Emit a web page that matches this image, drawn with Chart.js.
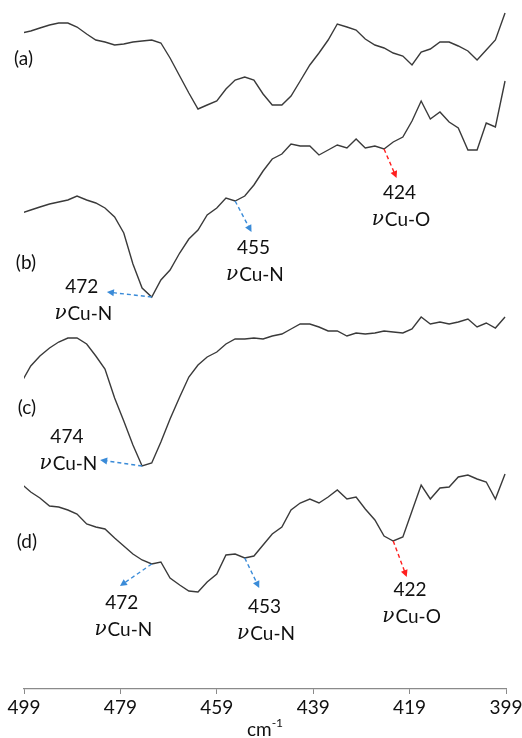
<!DOCTYPE html>
<html>
<head>
<meta charset="utf-8">
<script src="https://cdn.jsdelivr.net/npm/chart.js@4"></script>
<style>
  html, body { margin: 0; padding: 0; background: #fff; }
  #wrap { width: 522px; height: 738px; position: relative; }
</style>
</head>
<body>
<div id="wrap"><canvas id="irChart"></canvas></div>
<script>
// wavenumber of each recorded point (cm-1)
const wavenumbers = [499.5, 497.6, 495.7, 493.7, 491.8, 489.9, 488.0, 486.0, 484.1, 482.2,
  480.2, 478.3, 476.4, 474.5, 472.5, 470.6, 468.7, 466.7, 464.8, 462.9,
  461.0, 459.0, 457.1, 455.2, 453.2, 451.3, 449.4, 447.5, 445.5, 443.6,
  441.7, 439.7, 437.8, 435.9, 434.0, 432.0, 430.1, 428.2, 426.2, 424.3,
  422.4, 420.4, 418.5, 416.6, 414.7, 412.7, 410.8, 408.9, 406.9, 405.0,
  403.1, 401.2, 399.2];

// stacked spectra, arbitrary transmittance units (offset per trace)
const spectrumA = [65.6, 65.8, 66.1, 66.4, 66.6, 66.6, 66.2, 65.5, 64.9, 64.7,
  64.4, 64.5, 64.7, 64.8, 64.9, 64.6, 63.1, 61.3, 59.6, 58.0,
  58.4, 58.8, 60.0, 60.9, 61.2, 60.9, 59.5, 58.4, 58.4, 59.3,
  60.8, 62.4, 63.6, 64.9, 66.5, 66.2, 65.9, 65.0, 64.4, 64.1,
  63.6, 63.3, 62.4, 63.7, 64.0, 64.7, 64.7, 64.3, 63.8, 62.9,
  63.9, 64.9, 67.6];
const spectrumB = [47.6, 47.9, 48.2, 48.5, 48.7, 48.9, 49.3, 48.9, 48.6, 48.1,
  47.2, 45.6, 42.5, 40.1, 39.2, 40.9, 41.9, 43.6, 45.0, 45.9,
  47.4, 48.1, 49.1, 48.8, 49.3, 50.4, 51.8, 53.0, 53.5, 54.5,
  54.3, 54.3, 53.4, 53.9, 54.4, 54.1, 55.0, 54.1, 54.3, 54.0,
  54.7, 55.2, 56.8, 58.8, 57.0, 57.7, 56.7, 56.1, 53.9, 53.9,
  56.6, 56.2, 60.8];
const spectrumC = [30.7, 32.3, 33.3, 34.1, 34.7, 35.1, 35.1, 34.5, 33.3, 32.0,
  29.1, 26.8, 24.4, 22.3, 22.6, 24.7, 27.0, 29.2, 31.2, 32.4,
  33.2, 33.7, 34.5, 35.0, 35.0, 35.1, 35.0, 35.3, 35.5, 36.0,
  36.5, 36.5, 36.2, 35.8, 35.8, 35.3, 35.6, 35.5, 35.6, 35.8,
  35.7, 35.6, 36.0, 37.2, 36.5, 36.7, 36.5, 36.7, 37.0, 36.2,
  36.6, 36.1, 37.2];
const spectrumD = [20.5, 19.7, 19.1, 18.3, 18.2, 17.9, 17.5, 16.5, 16.2, 16.0,
  15.1, 14.3, 13.5, 12.9, 12.5, 12.7, 11.1, 10.4, 9.8, 9.7,
  10.7, 11.5, 13.4, 13.5, 13.1, 13.3, 14.4, 15.5, 16.2, 17.9,
  18.6, 19.0, 18.6, 19.2, 19.9, 19.0, 19.2, 18.0, 16.9, 15.3,
  14.8, 15.2, 17.8, 20.4, 19.0, 20.1, 20.2, 21.2, 21.4, 21.0,
  20.7, 19.0, 21.5];

const xTicks = [499, 479, 459, 439, 419, 399];
const traceNames = ['(a)', '(b)', '(c)', '(d)'];
// where each trace name sits, in axis units [wavenumber, value]
const traceNameAt = [[499.1, 63.0], [498.6, 42.6], [498.4, 28.1], [498.4, 14.7]];

// band assignments: trace, point index, arrow tip and label anchor (axis units)
const bandTrace = [1, 1, 1, 2, 3, 3, 3];
const bandIndex = [14, 23, 39, 13, 14, 24, 40];
const bandText = ['472', '455', '424', '474', '472', '453', '422'];
const bandMode = ['Cu-N', 'Cu-N', 'Cu-O', 'Cu-N', 'Cu-N', 'Cu-N', 'Cu-O'];
const bandTip = [[481.8, 39.7], [451.8, 45.7], [421.7, 51.1], [483.2, 22.9], [479.1, 10.3], [450.2, 10.1], [419.6, 11.2]];
const bandLabel = [[487.0, 40.2], [451.4, 44.1], [421.1, 49.6], [490.1, 25.2], [478.7, 8.6], [449.1, 8.2], [418.9, 9.9]];

const spectra = [spectrumA, spectrumB, spectrumC, spectrumD];
const FONT = 'Lato, "Open Sans", sans-serif';

const annotate = {
  id: 'annotate',
  afterDatasetsDraw(chart) {
    const { ctx, scales: { x, y }, chartArea } = chart;
    ctx.save();
    ctx.textAlign = 'center';
    ctx.textBaseline = 'middle';
    ctx.fillStyle = '#111';
    ctx.font = '19px ' + FONT;
    traceNames.forEach((name, i) => {
      ctx.fillText(name, x.getPixelForValue(traceNameAt[i][0]), y.getPixelForValue(traceNameAt[i][1]));
    });

    bandText.forEach((txt, i) => {
      const s = spectra[bandTrace[i]];
      const k = bandIndex[i];
      const x0 = x.getPixelForValue(wavenumbers[k]);
      const y0 = y.getPixelForValue(s[k]);
      const x1 = x.getPixelForValue(bandTip[i][0]);
      const y1 = y.getPixelForValue(bandTip[i][1]);
      const color = bandMode[i] === 'Cu-O' ? '#ff1f1f' : '#3a8bd8';
      const ang = Math.atan2(y1 - y0, x1 - x0);
      const head = 7;
      // dashed shaft
      ctx.strokeStyle = color;
      ctx.lineWidth = 1.4;
      ctx.setLineDash([4, 3]);
      ctx.beginPath();
      ctx.moveTo(x0, y0);
      ctx.lineTo(x1 - Math.cos(ang) * head * 0.6, y1 - Math.sin(ang) * head * 0.6);
      ctx.stroke();
      ctx.setLineDash([]);
      // arrow head
      ctx.fillStyle = color;
      ctx.beginPath();
      ctx.moveTo(x1, y1);
      ctx.lineTo(x1 - head * Math.cos(ang) + 3.5 * Math.sin(ang), y1 - head * Math.sin(ang) - 3.5 * Math.cos(ang));
      ctx.lineTo(x1 - head * Math.cos(ang) - 3.5 * Math.sin(ang), y1 - head * Math.sin(ang) + 3.5 * Math.cos(ang));
      ctx.closePath();
      ctx.fill();

      // label: wavenumber, then vibration mode
      const lx = x.getPixelForValue(bandLabel[i][0]);
      const ly = y.getPixelForValue(bandLabel[i][1]);
      ctx.fillStyle = '#111';
      ctx.textAlign = 'center';
      ctx.font = '19px ' + FONT;
      ctx.fillText(txt, lx, ly);
      const nuFont = 'italic 20px "DejaVu Serif", serif';
      ctx.font = nuFont;
      const wNu = ctx.measureText('\u03bd').width;
      ctx.font = '19px ' + FONT;
      const wMode = ctx.measureText(bandMode[i]).width;
      const startX = lx + 1.5 - (wNu + 1 + wMode) / 2;
      ctx.textAlign = 'left';
      ctx.font = nuFont;
      ctx.fillText('\u03bd', startX, ly + 27);
      ctx.font = '19px ' + FONT;
      ctx.fillText(bandMode[i], startX + wNu + 1, ly + 27);
      ctx.textAlign = 'center';
    });

    // axis title cm-1 with superscript
    const cx = (chartArea.left + chartArea.right) / 2;
    const ty = chartArea.bottom + 41;
    ctx.font = '19px ' + FONT;
    const wCm = ctx.measureText('cm').width;
    ctx.font = '12px ' + FONT;
    const wSup = ctx.measureText('-1').width;
    const sx = cx - (wCm + wSup) / 2;
    ctx.textAlign = 'left';
    ctx.fillStyle = '#111';
    ctx.font = '19px ' + FONT;
    ctx.fillText('cm', sx, ty);
    ctx.font = '12px ' + FONT;
    ctx.fillText('-1', sx + wCm, ty - 7);
    ctx.restore();
  }
};

new Chart(document.getElementById('irChart'), {
  type: 'line',
  data: {
    datasets: spectra.map((s, i) => ({
      label: traceNames[i],
      data: wavenumbers.map((w, j) => ({ x: w, y: s[j] })),
      borderColor: '#3a3a3a',
      borderWidth: 1.4,
      pointRadius: 0,
      tension: 0,
      fill: false
    }))
  },
  options: {
    responsive: true,
    maintainAspectRatio: false,
    animation: false,
    layout: { padding: { left: 24, right: 16, top: 0, bottom: 0 } },
    plugins: { legend: { display: false }, tooltip: { enabled: false } },
    scales: {
      x: {
        type: 'linear',
        reverse: true,
        min: 399,
        max: 499,
        afterBuildTicks: (axis) => { axis.ticks = xTicks.map(v => ({ value: v })); },
        afterFit: (axis) => {
          axis.height = 49;
          // edge labels may overhang the plot, as in the original figure
          axis.paddingLeft = 0;
          axis.paddingRight = 0;
        },
        grid: { drawOnChartArea: false, drawTicks: true, tickLength: 5, color: '#8a8a8a' },
        border: { color: '#8a8a8a', width: 1.2 },
        ticks: { color: '#111', font: { family: FONT, size: 19 }, padding: 2, maxRotation: 0, autoSkip: false }
      },
      y: {
        display: false,
        min: 0,
        max: 68.9
      }
    }
  },
  plugins: [annotate]
});
</script>
</body>
</html>
